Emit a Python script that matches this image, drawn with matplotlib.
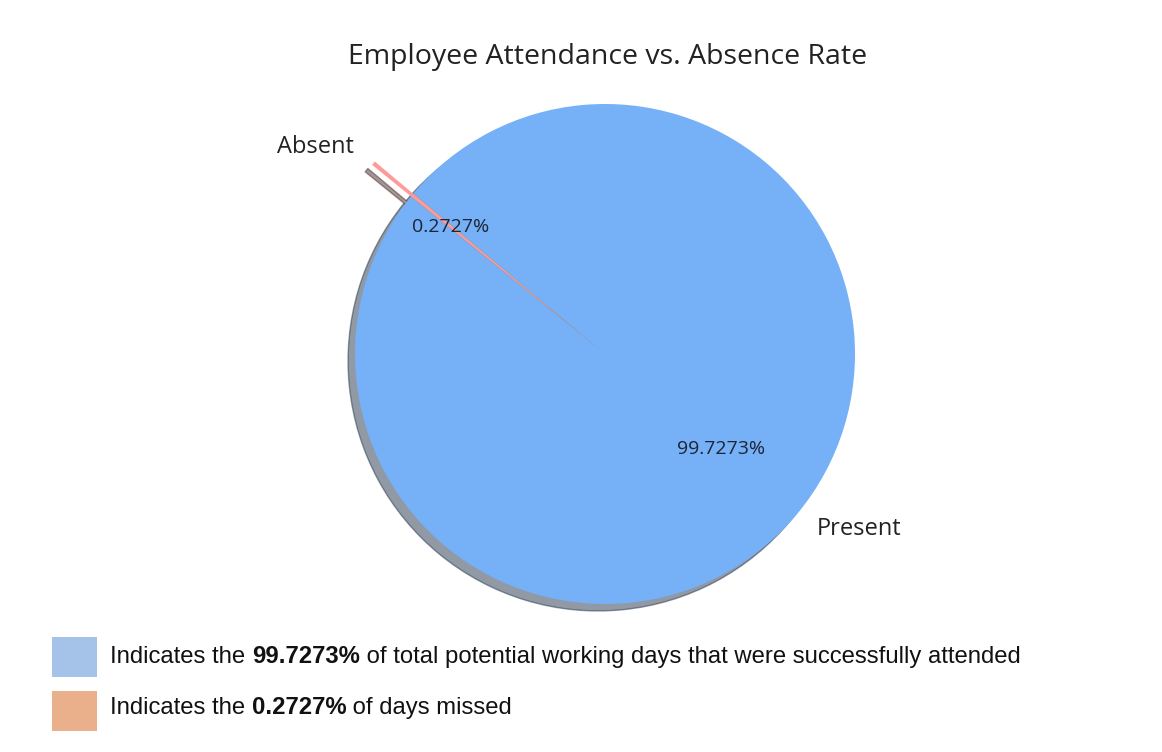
import matplotlib
matplotlib.use("Agg")
import matplotlib.pyplot as plt
from matplotlib.patches import Rectangle

labels = ['Present', 'Absent']
share = [99.7273, 0.2727]
explode = [0.0, 0.2]
pie_colors = ['#76b0f6', '#ff9a9a']

legend_colors = ['#a5c2e8', '#e9b08b']
legend_bold = ['99.7273%', '0.2727%']
legend_pre = ['Indicates the ', 'Indicates the ']
legend_post = [' of total potential working days that were successfully attended', ' of days missed']

plt.rcParams['font.family'] = ['Open Sans', 'DejaVu Sans']

W, H = 1162, 752
fig = plt.figure(figsize=(W / 100, H / 100), dpi=100)

# pie centre (605, 354) px, radius 250 px
r = 250
lim = 1.25
ax = fig.add_axes([(605 - lim * r) / W, (H - 354 - lim * r) / H, 2 * lim * r / W, 2 * lim * r / H])
wedges, texts, autotexts = ax.pie(share, labels=labels, explode=explode, colors=pie_colors,
                                  autopct='%1.4f%%', startangle=141, shadow=True,
                                  textprops={'fontsize': 17, 'color': '#222222'})
for t in autotexts:
    t.set_fontsize(14)
    t.set_color('#1c2535')
ax.set_xlim(-lim, lim)
ax.set_ylim(-lim, lim)
ax.set_aspect('equal')
ax.axis('off')

fig.text(608 / W, 1 - 57 / H, 'Employee Attendance vs. Absence Rate', ha='center', va='center',
         fontsize=20.5, color='#222222')

# bottom legend
box_top = [637, 691]
text_y = [657, 708]
for i in range(2):
    fig.patches.append(Rectangle((52 / W, 1 - (box_top[i] + 40) / H), 45 / W, 40 / H,
                                 transform=fig.transFigure, facecolor=legend_colors[i],
                                 edgecolor='none'))
    t1 = fig.text(110 / W, 1 - text_y[i] / H, legend_pre[i], ha='left', va='center',
                  fontsize=17.2, family='Liberation Sans', color='#111111')
    t2 = ax.annotate(legend_bold[i], xy=(1, 0), xycoords=t1, ha='left', va='bottom',
                     fontsize=17.2, family='Liberation Sans', weight='bold', color='#111111',
                     annotation_clip=False)
    ax.annotate(legend_post[i], xy=(1, 0), xycoords=t2, ha='left', va='bottom',
                fontsize=17.2, family='Liberation Sans', color='#111111', annotation_clip=False)

fig.savefig('out.png', dpi=100)
